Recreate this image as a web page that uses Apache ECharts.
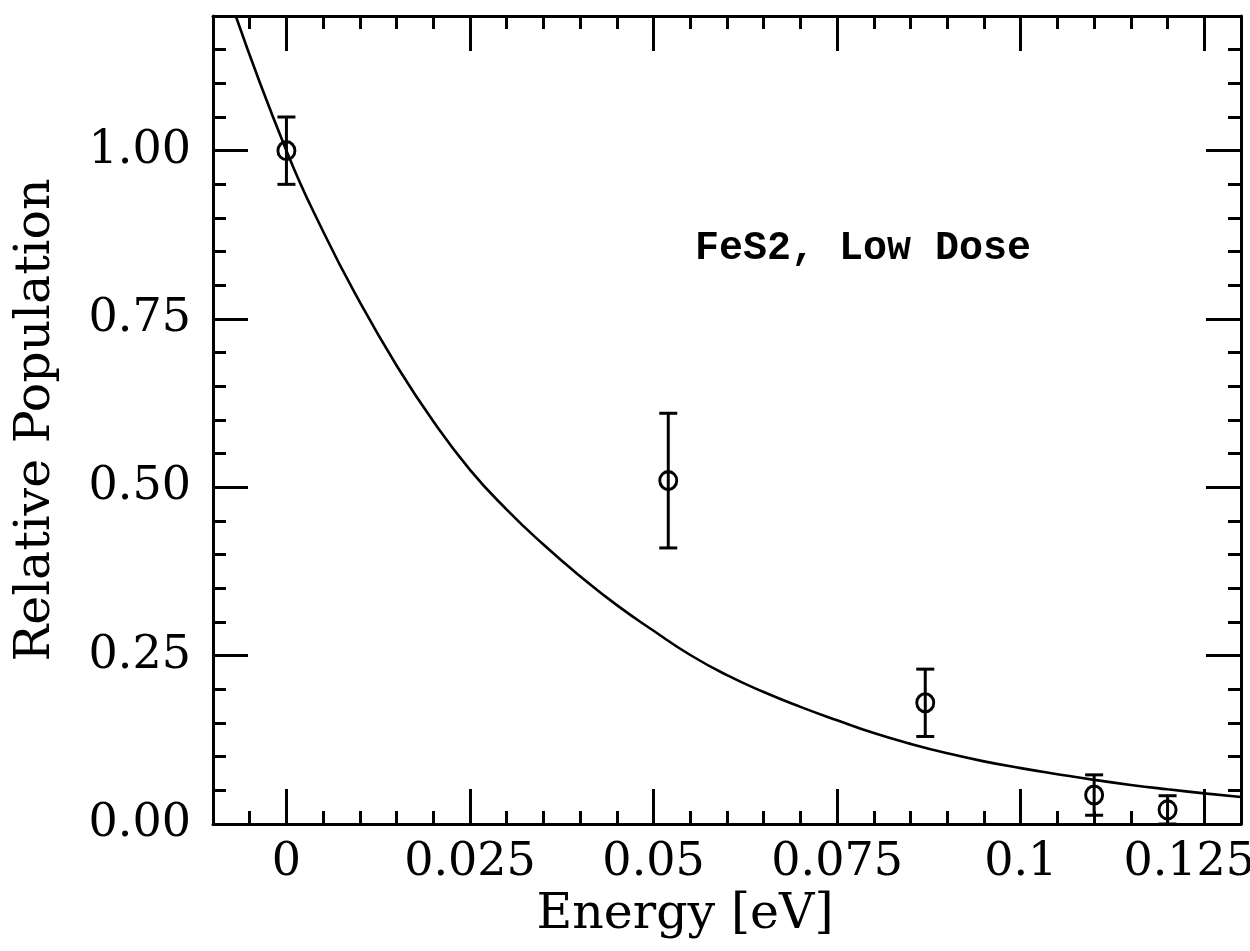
<!DOCTYPE html>
<html><head><meta charset="utf-8">
<script src="https://cdn.jsdelivr.net/npm/echarts@6/dist/echarts.min.js"></script>
<style>html,body{margin:0;padding:0;background:#fff}#c{width:1250px;height:951px}</style>
</head><body><div id="c"></div>
<script>
// measured points with error bars
const pointEnergy = [0.0, 0.052, 0.087, 0.110, 0.120];
const pointPop    = [1.00, 0.51, 0.180, 0.043, 0.021];
const pointErr    = [0.050, 0.100, 0.050, 0.030, 0.021];

// fitted curve
const curveEnergy = [-0.0069, 0.000, 0.005, 0.010, 0.015, 0.020, 0.025, 0.030, 0.035, 0.040, 0.045, 0.050, 0.055, 0.060, 0.065, 0.070, 0.075, 0.080, 0.085, 0.090, 0.095, 0.100, 0.105, 0.110, 0.115, 0.120, 0.125, 0.130];
const curvePop    = [1.200, 1.000, 0.880, 0.775, 0.681, 0.598, 0.526, 0.467, 0.415, 0.368, 0.325, 0.287, 0.251, 0.221, 0.196, 0.174, 0.154, 0.135, 0.119, 0.105, 0.093, 0.083, 0.074, 0.0655, 0.058, 0.0515, 0.0455, 0.040];

// axes
const xMin = -0.01, xMax = 0.13, yMin = 0, yMax = 1.2;
const xMajorTicks = [0, 0.025, 0.05, 0.075, 0.1, 0.125];
const xTickLabels = ['0', '0.025', '0.05', '0.075', '0.1', '0.125'];
const xMinorTicks = [-0.005, 0.005, 0.01, 0.015, 0.02, 0.03, 0.035, 0.04, 0.045, 0.055, 0.06, 0.065, 0.07, 0.08, 0.085, 0.09, 0.095, 0.105, 0.11, 0.115, 0.12];
const yMajorTicks = [0, 0.25, 0.5, 0.75, 1.0];
const yTickLabels = ['0.00', '0.25', '0.50', '0.75', '1.00'];
const yMinorTicks = [0.05, 0.1, 0.15, 0.2, 0.3, 0.35, 0.4, 0.45, 0.55, 0.6, 0.65, 0.7, 0.8, 0.85, 0.9, 0.95, 1.05, 1.1, 1.15];

const xName = 'Energy [eV]';
const yName = 'Relative Population';
const annotation = 'FeS2, Low Dose';

const SERIF = '"DejaVu Serif", serif';
const TICKFONT = 46;
const NAMEFONT = 49;

function labelFor(values, labels, lastRich) {
  return v => {
    for (let i = 0; i < values.length; i++) {
      if (Math.abs(values[i] - v) < 1e-9) {
        return (lastRich && i === values.length - 1) ? '{last|' + labels[i] + '}' : labels[i];
      }
    }
    return '';
  };
}

function mkAxis(kind, position, ticks, len, showLine, labels) {
  const isX = kind === 'x';
  const a = {
    type: 'value', position: position,
    min: isX ? xMin : yMin, max: isX ? xMax : yMax,
    splitLine: { show: false },
    axisLine: { show: showLine, onZero: false, lineStyle: { color: '#000', width: 3 } },
    axisTick: { show: true, inside: true, length: len, customValues: ticks, lineStyle: { color: '#000', width: 3 } },
    axisLabel: { show: false }
  };
  if (labels) {
    a.axisLabel = {
      show: true, customValues: ticks,
      formatter: labelFor(ticks, labels, isX),
      color: '#000', fontFamily: SERIF, fontSize: TICKFONT,
      margin: isX ? 16 : 22,
      rich: { last: { fontFamily: SERIF, fontSize: TICKFONT, color: '#000', padding: [0, 30, 0, 0] } }
    };
    a.name = isX ? xName : yName;
    a.nameLocation = 'middle';
    a.nameGap = isX ? 66 : 152;
    a.nameTextStyle = isX
      ? { color: '#000', fontFamily: SERIF, fontSize: NAMEFONT, padding: [0, 84, 0, 0] }
      : { color: '#000', fontFamily: SERIF, fontSize: NAMEFONT };
  }
  return a;
}

const errData = pointEnergy.map((x, i) => [x, pointPop[i] - pointErr[i], pointPop[i] + pointErr[i]]);

const chart = echarts.init(document.getElementById('c'), null, { renderer: 'canvas' });
chart.setOption({
  animation: false,
  backgroundColor: '#fff',
  grid: { left: 213, right: 9, top: 16, bottom: 127, containLabel: false, outerBoundsMode: 'none' },
  xAxis: [
    mkAxis('x', 'bottom', xMajorTicks, 35, true, xTickLabels),
    mkAxis('x', 'bottom', xMinorTicks, 13, false),
    mkAxis('x', 'top', xMajorTicks, 35, true),
    mkAxis('x', 'top', xMinorTicks, 13, false)
  ],
  yAxis: [
    mkAxis('y', 'left', yMajorTicks, 35, true, yTickLabels),
    mkAxis('y', 'left', yMinorTicks, 13, false),
    mkAxis('y', 'right', yMajorTicks, 35, true),
    mkAxis('y', 'right', yMinorTicks, 13, false)
  ],
  graphic: [{
    type: 'text', left: 695, top: 229,
    style: { text: annotation, fill: '#000', font: 'bold 40px "Liberation Mono", "DejaVu Sans Mono", monospace' }
  }],
  series: [
    {
      type: 'line', xAxisIndex: 0, yAxisIndex: 0,
      data: curveEnergy.map((x, i) => [x, curvePop[i]]),
      smooth: 0.5, showSymbol: false, symbol: 'none',
      lineStyle: { color: '#000', width: 2.6 }, clip: true, z: 3
    },
    {
      type: 'custom', xAxisIndex: 0, yAxisIndex: 0,
      data: errData, z: 4,
      renderItem: function (params, api) {
        const x = api.value(0);
        const pLo = api.coord([x, api.value(1)]);
        const pHi = api.coord([x, api.value(2)]);
        const w = 9;
        const st = { stroke: '#000', lineWidth: 3 };
        return {
          type: 'group', children: [
            { type: 'line', shape: { x1: pHi[0], y1: pHi[1], x2: pLo[0], y2: pLo[1] }, style: st },
            { type: 'line', shape: { x1: pHi[0] - w, y1: pHi[1], x2: pHi[0] + w, y2: pHi[1] }, style: st },
            { type: 'line', shape: { x1: pLo[0] - w, y1: pLo[1], x2: pLo[0] + w, y2: pLo[1] }, style: st }
          ]
        };
      }
    },
    {
      type: 'scatter', xAxisIndex: 0, yAxisIndex: 0,
      data: pointEnergy.map((x, i) => [x, pointPop[i]]),
      symbol: 'circle', symbolSize: [17, 18], z: 5,
      itemStyle: { color: 'rgba(0,0,0,0)', borderColor: '#000', borderWidth: 3, opacity: 1 }
    }
  ]
});
</script>
</body></html>
